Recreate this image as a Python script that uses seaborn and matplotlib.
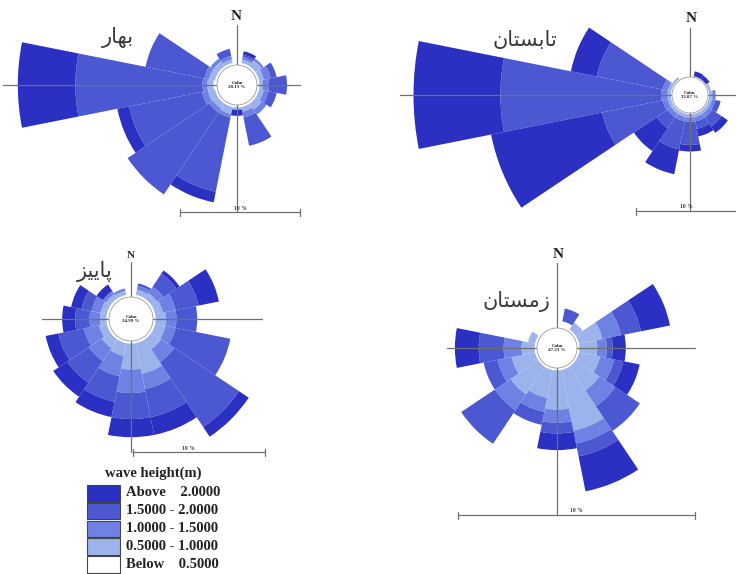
import numpy as np
import pandas as pd
import matplotlib
matplotlib.use("Agg")
import matplotlib.pyplot as plt
from matplotlib.patches import Rectangle, Circle
import seaborn as sns

sns.set_theme(style="white")

# ---------------------------------------------------------------- data
directions = ["N", "NNE", "NE", "ENE", "E", "ESE", "SE", "SSE",
              "S", "SSW", "SW", "WSW", "W", "WNW", "NW", "NNW"]
height_classes = ["Below    0.5000", "0.5000 - 1.0000", "1.0000 - 1.5000",
                  "1.5000 - 2.0000", "Above    2.0000"]
class_colors = ["#ffffff", "#9db3ec", "#6f82e4", "#4b58d2", "#2b2fc2"]

# frequency (%) of each wave-height class per direction (N ... NNW)
spring_below = [0, .2, .2, .2, .2, .2, .2, .2, .2, .2, .2, .2, .3, .2, .2, .2]
spring_05_10 = [0, .3, .6, .4, .3, .4, .6, .4, .2, .6, .5, .6, .5, .5, .5, .3]
spring_10_15 = [0, .2, .2, .6, .5, .4, .5, .5, 0, .3, .4, .5, .4, .4, .3, .3]
spring_15_20 = [0, .2, 0, .5, 1.5, .7, 0, 2.4, 0, 6.3, 8.2, 6.2, 10.6, 5.0, 0, .6]
spring_above = [0, .3, 0, 0, 0, 0, 0, 0, .5, .9, 0, 1.0, 4.8, 0, 0, 0]

summer_below = [0, .1, .1, .1, .1, .1, .1, .1, .1, .1, .1, .1, .1, .1, .1, 0]
summer_05_10 = [0, 0, 0, .2, .3, .3, .3, .3, .3, .3, .3, .3, .3, .3, .2, 0]
summer_10_15 = [0, 0, 0, 0, .3, .3, .4, .4, .4, .4, .4, .5, .6, .5, 0, 0]
summer_15_20 = [0, 0, 0, 0, 0, .5, 1.0, .7, 2.1, 2.6, 1.2, 5.6, 14.6, 6.1, 0, 0]
summer_above = [0, .45, .4, 0, 0, 0, .7, .7, .6, 2.3, 2.5, 10.3, 7.9, 2.4, 0, 0]

autumn_below = [0, .2, .2, .2, .2, .2, .2, .2, .2, .2, .2, .2, .2, .2, .2, .2]
autumn_05_10 = [0, .4, .5, .6, .8, .8, .9, 2.4, 2.0, 1.0, .8, .6, .5, .5, .4, .3]
autumn_10_15 = [0, .3, .6, 1.0, .8, .8, 1.2, 1.2, 1.8, 1.6, 1.2, 1.2, .8, .7, .3, .2]
autumn_15_20 = [0, .2, 1.2, 1.8, 1.6, 4.3, 6.0, 2.2, 2.0, 2.0, 2.0, 2.0, 1.1, .8, 0, 0]
autumn_above = [0, 0, .3, 1.6, 0, 0, .9, 1.4, 1.4, 1.2, 1.3, 1.0, 1.0, .8, .6, 0]

winter_below = [0, .3, .1, .1, .1, .1, .1, .1, .1, .1, .1, .1, .1, .1, 0, 0]
winter_05_10 = [0, 0, .35, 1.0, .75, .9, 1.2, 2.6, 1.65, 1.2, 1.4, 1.0, .55, .3, 0, 0]
winter_10_15 = [0, 0, 0, .8, .4, .6, .8, .55, .55, .6, .8, .6, .75, 0, 0, 0]
winter_15_20 = [0, .55, 0, .85, .25, .4, 1.25, .55, .45, .55, 1.7, .6, 1.05, 0, 0, 0]
winter_above = [0, 0, 0, 1.25, .55, .7, 0, 1.5, .7, 0, 0, 0, 1.0, 0, 0, 0]

calm_values = {"spring": 28.13, "summer": 33.87, "autumn": 34.99, "winter": 47.23}

# season titles in Persian (shaped presentation forms, visual order)
season_titles = {
    "spring": "\uFEAD\uFE8E\uFEEC\uFE91",                          # بهار
    "summer": "\uFEE5\uFE8E\uFE98\uFEB4\uFE91\uFE8E\uFE97",        # تابستان
    "autumn": "\uFEB0\uFEF4\uFEF3\uFE8E\uFB58",                    # پاییز
    "winter": "\uFEE5\uFE8E\uFE98\uFEB4\uFEE3\uFEAF",              # زمستان
}

season_data = {
    "spring": [spring_below, spring_05_10, spring_10_15, spring_15_20, spring_above],
    "summer": [summer_below, summer_05_10, summer_10_15, summer_15_20, summer_above],
    "autumn": [autumn_below, autumn_05_10, autumn_10_15, autumn_15_20, autumn_above],
    "winter": [winter_below, winter_05_10, winter_10_15, winter_15_20, winter_above],
}

# ---------------------------------------------------------------- layout (pixels)
W_PX, H_PX = 736, 574
layout = {
    "spring": dict(c=(237, 85), k=12.0, r0=20, arms=(60, 127, 234, 63),
                   bar=(212, 180, 300, 240), title=(118, 38), n=(236, 16), nsize=11),
    "summer": dict(c=(690, 95), k=11.0, r0=18, arms=(67, 116, 290, 60),
                   bar=(211, 636, 745, 686), title=(525, 40), n=(691, 19), nsize=11),
    "autumn": dict(c=(131, 319), k=13.0, r0=22, arms=(57, 133, 89, 131),
                   bar=(452, 133, 265, 188), title=(95, 272), n=(131, 255), nsize=8),
    "winter": dict(c=(557, 348), k=23.8, r0=20, arms=(85, 167, 110, 138),
                   bar=(515, 458, 695, 576), title=(516, 302), n=(558, 255), nsize=11),
}

line_col = "#707070"
serif = ["Liberation Serif", "DejaVu Serif"]

fig = plt.figure(figsize=(W_PX / 100, H_PX / 100), dpi=100)
fig.patch.set_facecolor("white")

theta = np.deg2rad(np.arange(len(directions)) * 22.5)
width = np.deg2rad(22.5)
palette = sns.color_palette(class_colors)

for season, cfg in layout.items():
    cx, cy = cfg["c"]
    k, r0 = cfg["k"], cfg["r0"]
    R = 300
    ax = fig.add_axes([(cx - R) / W_PX, 1 - (cy + R) / H_PX, 2 * R / W_PX, 2 * R / H_PX],
                      projection="polar")
    ax.set_theta_zero_location("N")
    ax.set_theta_direction(-1)
    ax.set_ylim(0, R / k)
    ax.axis("off")

    frame = pd.DataFrame(np.array(season_data[season]).T, index=directions,
                         columns=height_classes)
    bottom = np.full(len(directions), r0 / k)
    for cls, col in zip(height_classes, palette):
        vals = frame[cls].to_numpy()
        ax.bar(theta, vals, width=width, bottom=bottom, color=col,
               edgecolor="none", linewidth=0, zorder=2, clip_on=False)
        bottom = bottom + vals

    up, down, left, right = cfg["arms"]
    for ang, length in ((0, up), (np.pi, down), (1.5 * np.pi, left), (0.5 * np.pi, right)):
        ax.plot([ang, ang], [0, length / k], color=line_col, lw=0.9, zorder=3, clip_on=False)

    ax.add_patch(Circle((0.5, 0.5), r0 / (2 * R), transform=ax.transAxes,
                        facecolor="white", edgecolor="#9a9a9a", lw=0.6, zorder=4))
    ax.text(0.5, 0.5, f"Calm\n{calm_values[season]:.2f} %", transform=ax.transAxes,
            ha="center", va="center", fontsize=3.6, fontweight="bold",
            family=serif, color="#222222", zorder=5, linespacing=1.1)

# ---------------------------------------------------------------- overlay: titles, scale bars, legend
ov = fig.add_axes([0, 0, 1, 1])
ov.set_xlim(0, W_PX)
ov.set_ylim(H_PX, 0)
ov.axis("off")

for season, cfg in layout.items():
    y, x0, x1, lx = cfg["bar"]
    ov.plot([x0, x1], [y, y], color=line_col, lw=0.9)
    for xe in (x0, x1):
        ov.plot([xe, xe], [y - 3.5, y + 3.5], color=line_col, lw=0.9)
    ov.text(lx, y - 1.5, "10 %", ha="center", va="bottom", fontsize=4,
            fontweight="bold", family=serif, color="#333333")
    tx, ty = cfg["title"]
    ov.text(tx, ty, season_titles[season], ha="center", va="center", fontsize=15,
            family=["DejaVu Sans"], color="#3a3a3a")
    nx, ny = cfg["n"]
    ov.text(nx, ny, "N", ha="center", va="center", fontsize=cfg["nsize"],
            fontweight="bold", family=serif, color="#222222")

# legend
ov.text(153, 473, "wave height(m)", ha="center", va="center", fontsize=10.5,
        fontweight="bold", family=serif, color="#222222")
legend_rows = list(zip(height_classes, palette))[::-1]
for i, (label, col) in enumerate(legend_rows):
    top = 485 + i * 17.8
    ov.add_patch(Rectangle((87, top), 33, 16.5, facecolor=col, edgecolor="#444444", lw=0.8))
    ov.text(126, top + 8, label, ha="left", va="center", fontsize=10.5,
            fontweight="bold", family=serif, color="#222222")

fig.savefig("out.png", dpi=100)
